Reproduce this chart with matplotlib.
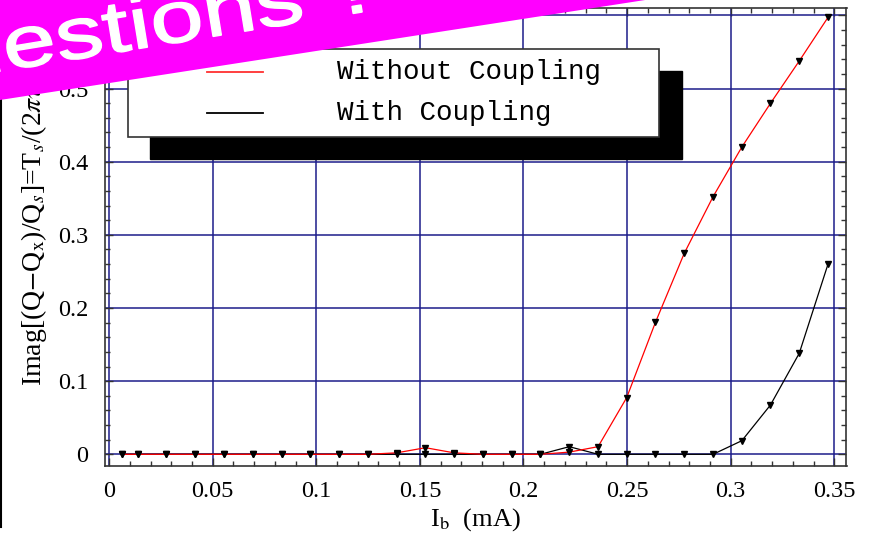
import matplotlib
matplotlib.use('Agg')
import matplotlib.pyplot as plt
from matplotlib.patches import Rectangle, Polygon, PathPatch
from matplotlib.lines import Line2D
from matplotlib.textpath import TextPath
from matplotlib.font_manager import FontProperties
from matplotlib.transforms import Affine2D
from matplotlib.ticker import MultipleLocator

plt.rcParams['font.family'] = ['Liberation Serif', 'DejaVu Serif']
plt.rcParams['mathtext.fontset'] = 'stix'

# Beam current (mA) and growth rates
current = [0.0064, 0.0138, 0.0277, 0.0416, 0.0555, 0.0694, 0.0833, 0.0971, 0.1110,
           0.1249, 0.1388, 0.1527, 0.1665, 0.1804, 0.1943, 0.2082, 0.2221, 0.2360,
           0.2498, 0.2637, 0.2776, 0.2915, 0.3054, 0.3192, 0.3331, 0.3470]
without_coupling = [0, 0, 0, 0, 0, 0, 0, 0, 0,
                    0, 0.002, 0.009, 0.002, 0, 0, 0, 0.003, 0.0104,
                    0.0774, 0.1805, 0.2748, 0.3522, 0.4201, 0.4798, 0.5377, 0.5974]
with_coupling = [0, 0, 0, 0, 0, 0, 0, 0, 0,
                 0, 0, 0, 0, 0, 0, 0, 0.0104, 0,
                 0, 0, 0, 0, 0.0186, 0.0674, 0.1381, 0.2602]

xticks = [0, 0.05, 0.1, 0.15, 0.2, 0.25, 0.3, 0.35]
xtick_labels = ['0', '0.05', '0.1', '0.15', '0.2', '0.25', '0.3', '0.35']
yticks = [0, 0.1, 0.2, 0.3, 0.4, 0.5, 0.6]
ytick_labels = ['0', '0.1', '0.2', '0.3', '0.4', '0.5', '0.6']
legend_labels = ['Without Coupling', 'With Coupling']

W, H = 870, 544
fig = plt.figure(figsize=(W / 100, H / 100), dpi=100)


def fpos(x, y):
    # pixel position measured from the top-left corner -> figure fraction
    return x / W, 1 - y / H


ax = fig.add_axes([105 / W, 1 - 466 / H, (846.5 - 105) / W, (466 - 8) / H])
ax.set_xlim(-0.00198, 0.3559)
ax.set_ylim(-0.016, 0.6101)

grid_color = '#1c1c8a'
ax.set_xticks(xticks)
ax.set_xticklabels(xtick_labels)
ax.set_yticks(yticks)
ax.set_yticklabels(ytick_labels)
ax.xaxis.set_minor_locator(MultipleLocator(0.01))
ax.yaxis.set_minor_locator(MultipleLocator(0.02))
ax.grid(True, which='major', color=grid_color, linewidth=1.1)
ax.set_axisbelow(True)
ax.tick_params(which='both', direction='in', top=True, right=True,
               labelsize=17.5, color='#333333')
ax.tick_params(axis='x', which='major', pad=11)
ax.tick_params(axis='y', which='major', pad=12)
ax.tick_params(which='major', length=6, width=1)
ax.tick_params(which='minor', length=3.5, width=1)
for s in ax.spines.values():
    s.set_color('#333333')
    s.set_linewidth(1.2)

# Curves
ax.plot(current, with_coupling, color='black', linewidth=0.9, zorder=3)
ax.plot(current, without_coupling, color='red', linewidth=0.9, zorder=4)
for ys in (with_coupling, without_coupling):
    ax.plot(current, ys, linestyle='none', marker='v', markersize=5,
            color='black', zorder=5)

ax.set_xlabel(r'I$_{\rm b}$  (mA)', fontsize=19)
ax.xaxis.set_label_coords(0.5, -0.088)
fig.text(*fpos(34, 386), r'Imag[(Q$-$Q$_{\rm x}$)/Q$_s$]=T$_s$/(2$\pi\tau$)',
         rotation=90, ha='center', va='bottom', fontsize=20)

# Legend box with its drop shadow
x0, y0 = fpos(150, 159)
x1, y1 = fpos(682, 71)
fig.add_artist(Rectangle((x0, y0), x1 - x0, y1 - y0, transform=fig.transFigure,
                         facecolor='black', edgecolor='black', zorder=6))
x0, y0 = fpos(128, 137)
x1, y1 = fpos(659, 49)
fig.add_artist(Rectangle((x0, y0), x1 - x0, y1 - y0, transform=fig.transFigure,
                         facecolor='white', edgecolor='#333333', linewidth=1.2, zorder=7))
for label, col, yy in zip(legend_labels, ['#ff3030', 'black'], [72, 113]):
    (lx0, ly), (lx1, _) = fpos(207, yy), fpos(263, yy)
    fig.add_artist(Line2D([lx0, lx1], [ly, ly], color=col, linewidth=1.3,
                          transform=fig.transFigure, zorder=8))
    fig.text(*fpos(337, yy), label, family='Liberation Mono', fontsize=19.8,
             ha='left', va='center', zorder=8)

# Slide border on the left
fig.add_artist(Line2D([1.5 / W, 1.5 / W], [1, 1 - 527 / H], color='black',
                      linewidth=1.5, transform=fig.transFigure, zorder=9))

# Magenta "Questions ?" banner
slope = 0.155
banner = [fpos(-20, 100 + 20 * slope), fpos(950, 100 - 950 * slope),
          fpos(950, -400), fpos(-20, -300)]
fig.add_artist(Polygon(banner, closed=True, transform=fig.transFigure,
                       facecolor='#ff00ff', edgecolor='none', zorder=10))
tp = TextPath((0, 0), 'Questions ?', size=1, prop=FontProperties(family='Liberation Sans'))
tr = Affine2D().scale(96, 73).rotate_deg(9.3).translate(-120, H - 91)
fig.add_artist(PathPatch(tp, transform=tr, facecolor='white', edgecolor='white',
                         linewidth=1.0, zorder=11))

fig.savefig('out.png', dpi=100)
